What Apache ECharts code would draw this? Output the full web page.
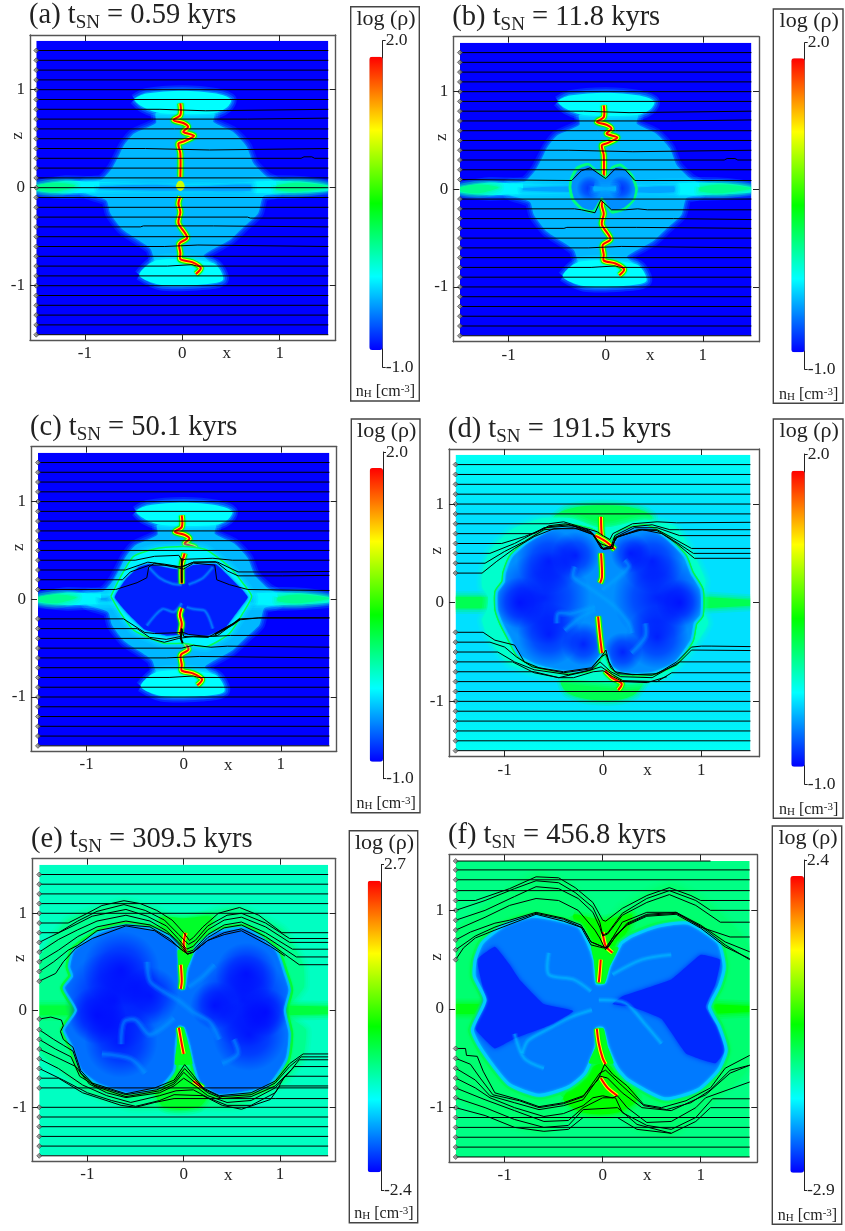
<!DOCTYPE html>
<html>
<head>
<meta charset="utf-8">
<script src="https://cdn.jsdelivr.net/npm/echarts@6/dist/echarts.min.js"></script>
<style>html,body{margin:0;padding:0;background:#fff}#main{width:845px;height:1231px}</style>
</head>
<body>
<div id="main"></div>
<script>
// values, all in plot units (x, z)
var ticks = [-1, 0, 1];
var labelsPanel = ['(a)', '(b)', '(c)', '(d)', '(e)', '(f)'];
var times = ['0.59', '11.8', '50.1', '191.5', '309.5', '456.8'];
var rhoMax = [2.0, 2.0, 2.0, 2.0, 2.7, 2.4];
var rhoMin = [-1.0, -1.0, -1.0, -1.0, -2.4, -2.9];
var imageBox = [[-1.5, 1.5], [1.5, 1.5], [1.5, -1.5], [-1.5, -1.5]];
var outsideImage = [
  [[-2, 2], [-1.5, 2], [-1.5, -2], [-2, -2]],
  [[1.5, 2], [2, 2], [2, -2], [1.5, -2]],
  [[-2, 2], [2, 2], [2, 1.5], [-2, 1.5]],
  [[-2, -1.5], [2, -1.5], [2, -2], [-2, -2]]
];

// early stage gas, same in panels a, b, c
var capTop = [[-.49,.9],[-.37,.96],[0,.99],[.35,.96],[.5,.9],[.46,.82],[.32,.76],[-.22,.76],[-.4,.82]];
var capBot = [[-.44,-.89],[-.23,-.99],[.18,-.99],[.42,-.94],[.32,-.77],[-.26,-.74]];
var body = [[-.27,.76],[.33,.76],[.32,.67],[.52,.57],[.66,.42],[.73,.25],[.87,.11],[.97,.05],[.97,-.05],[.83,-.09],[.78,-.26],[.63,-.4],[.49,-.53],[.22,-.69],[.3,-.78],[-.26,-.78],[-.33,-.62],[-.61,-.43],[-.74,-.26],[-.78,-.13],[-1,-.05],[-1,.05],[-.83,.08],[-.72,.2],[-.65,.33],[-.6,.43],[-.5,.55],[-.27,.66]];
var disc = [[-1.5,.02],[-1.2,.07],[-.9,.06],[-.5,.05],[0,.04],[.5,.05],[.95,.07],[1.25,.06],[1.5,.02],[1.5,-.03],[1.25,-.05],[.95,-.06],[.5,-.05],[0,-.05],[-.5,-.05],[-.9,-.05],[-1.2,-.06],[-1.5,-.03]];
var discCore = [[-.85,.01],[-.3,.03],[.1,.01],[.7,.03],[.7,-.03],[.1,-.03],[-.3,-.03],[-.85,-.01]];
var discTipL = [[-1.5,.02],[-1.3,.05],[-1.1,.02],[-1.3,-.04],[-1.5,-.02]];
var discTipR = [[.97,.02],[1.2,.05],[1.5,.01],[1.2,-.04],[.97,-.02]];
var filTop = [[-.02,.86],[-.02,.74],[-.09,.69],[.01,.66],[.06,.62],[.01,.57],[.12,.53],[.01,.47],[-.04,.45],[-.02,.35],[-.02,.11]];
var filBot = [[-.02,-.09],[-.04,-.16],[-.02,-.25],[-.04,-.36],[.05,-.51],[-.03,-.57],[-.02,-.67],[-.02,-.73],[.1,-.76],[.19,-.82],[.14,-.88]];
var filTopC = [[-.02,.86],[-.02,.74],[-.09,.69],[.01,.66],[.06,.62],[.01,.57],[.12,.53],[.01,.47],[-.02,.35],[-.02,.16]];
var centreBlob = [[-.05,.05],[-.02,.07],[.01,.05],[.02,.0],[-.02,-.03],[-.06,.0]];

var straightA = [1.4,1.3,1.2,1.1,1,.9,.5,.2,.1,0,-.1,-.2,-.5,-.7,-.9,-1,-1.1,-1.2,-1.3,-1.4,-1.5];
var kinks = [
  [[-1.5,.8],[-.23,.8],[-.22,.785],[.24,.785],[.25,.8],[1.5,.8]],
  [[-1.5,.7],[.67,.7],[.68,.71],[1.5,.71]],
  [[-1.5,.6],[-.08,.6],[-.06,.585],[.1,.6],[1.5,.6]],
  [[-1.5,.4],[-.38,.4],[-.36,.385],[.28,.385],[.3,.4],[1.5,.4]],
  [[-1.5,.3],[1.22,.3],[1.25,.315],[1.33,.315],[1.36,.3],[1.5,.3]],
  [[-1.5,-.3],[.67,-.3],[.7,-.31],[1.5,-.31]],
  [[-1.5,-.4],[-.43,-.4],[-.4,-.39],[.32,-.39],[.33,-.4],[1.5,-.4]],
  [[-1.5,-.6],[-.18,-.6],[-.16,-.585],[.16,-.585],[.18,-.6],[1.5,-.6]],
  [[-1.5,-.8],[-.15,-.8],[-.13,-.785],[.1,-.785],[.15,-.8],[1.5,-.8]]
];

// panel b
var shellB = [[0,.13],[-.11,.215],[-.18,.27],[-.3,.23],[-.365,.11],[-.38,.01],[-.35,-.11],[-.25,-.21],[-.13,-.245],[-.04,-.11],[.06,-.245],[.2,-.21],[.3,-.11],[.33,.01],[.28,.15],[.16,.26],[.06,.23]];
var innerB = [[0,.1],[-.11,.19],[-.18,.24],[-.28,.2],[-.34,.1],[-.35,.01],[-.32,-.1],[-.23,-.19],[-.13,-.21],[-.04,-.08],[.06,-.21],[.18,-.19],[.28,-.1],[.3,.01],[.25,.14],[.15,.23],[.06,.2]];
var coresB = [[-.17,.01,.13],[.16,.01,.13]];
var barB = [[-.12,.03],[0,.02],[.1,.03],[.1,-.02],[0,-.01],[-.12,-.02]];
var straightB = [1.4,1.3,1.2,1.1,1,.9,.5,.2,-.1,-.5,-.7,-.9,-1,-1.1,-1.2,-1.3,-1.4,-1.5];
var bentB = [
  [[-1.5,.1],[-.35,.09],[-.25,.19],[-.16,.22],[0,.11],[.1,.21],[.2,.2],[.3,.09],[1.5,.09]],
  [[-1.5,-.2],[-.32,-.2],[-.25,-.21],[-.11,-.24],[-.05,-.11],[.06,-.21],[.2,-.21],[.33,-.2],[.43,-.21],[1.5,-.21]],
  [[-1.5,-.3],[.7,-.3],[.72,-.31],[1.5,-.31]]
];

// panel c
var shellC = [[-.75,.03],[-.65,.23],[-.515,.44],[-.28,.52],[0,.54],[.235,.505],[.47,.33],[.61,.165],[.7,.03],[.61,-.14],[.47,-.35],[.235,-.485],[0,-.45],[-.21,-.45],[-.515,-.315],[-.65,-.14]];
var innerC = [[-.71,.02],[-.6,.2],[-.46,.33],[-.36,.36],[-.1,.31],[0,.3],[.1,.35],[.33,.36],[.45,.25],[.6,.1],[.66,.02],[.55,-.13],[.42,-.3],[.25,-.37],[0,-.36],[-.18,-.37],[-.4,-.31],[-.58,-.14]];
var streaksC = [
  [[-.36,.33],[-.25,.22],[-.12,.16],[-.02,.15]],
  [[.3,.33],[.2,.22],[.1,.17],[.05,.15]],
  [[-.38,-.27],[-.22,-.1],[-.1,-.13],[-.02,-.04]],
  [[.3,-.3],[.22,-.12],[.1,-.1],[.03,-.08]]
];
var straightC = [1.4,1.3,1.2,1.1,1,.9,.8,.7,.6,.5,-.7,-.9,-1,-1.1,-1.2,-1.3,-1.4,-1.5];
var bentC = [
  [[-1.5,.4],[-.5,.4],[-.3,.44],[-.05,.45],[-.02,.4],[.02,.41],[.3,.42],[.5,.4],[1.5,.4]],
  [[-1.5,.3],[-.6,.3],[-.37,.38],[-.2,.36],[-.02,.33],[.1,.38],[.35,.38],[.56,.28],[1,.28],[1.02,.285],[1.5,.285]],
  [[-1.5,.2],[-.63,.2],[-.55,.28],[-.35,.35],[-.2,.35],[-.03,.33],[.1,.38],[.33,.385],[.45,.29],[.56,.24],[1.02,.24],[1.5,.245]],
  [[-1.5,.1],[-.7,.1],[-.48,.17],[-.38,.22],[-.36,.33],[-.3,.37],[-.05,.32],[0,.31],[.1,.37],[.32,.35],[.34,.2],[.47,.15],[.66,.1],[1.5,.09]],
  [[-1.5,-.2],[-.62,-.2],[-.4,-.34],[-.3,-.35],[0,-.34],[.05,-.36],[.25,-.38],[.35,-.37],[.58,-.2],[.8,-.19],[1.5,-.19]],
  [[-1.5,-.3],[-.48,-.3],[-.35,-.39],[-.18,-.41],[-.03,-.38],[-.02,-.3],[0,-.38],[.25,-.39],[.45,-.28],[.58,-.21],[.77,-.19],[1.5,-.19]],
  [[-1.5,-.4],[-.35,-.4],[-.2,-.44],[-.05,-.4],[.1,-.38],[.3,-.38],[.48,-.37],[1.5,-.37]],
  [[-1.5,-.5],[-.02,-.5],[.1,-.47],[.28,-.49],[.45,-.48],[1.5,-.49]],
  [[-1.5,-.6],[-.18,-.6],[-.16,-.585],[.16,-.585],[.18,-.6],[1.5,-.6]],
  [[-1.5,-.8],[-.15,-.8],[-.13,-.785],[.1,-.785],[.15,-.8],[1.5,-.8]]
];
var coreLinesC = [
  [[-.02,.42],[-.02,.17]],
  [[-.02,-.3],[-.03,-.4],[-.01,-.45]],
  [[.32,-.36],[.5,-.26],[.58,-.2]]
];

// panel d
var shellD = [[-1.23,.3],[-1.15,.53],[-.93,.74],[-.62,.855],[-.32,.855],[-.08,.77],[.09,.77],[.43,.84],[.73,.77],[.9,.53],[1.04,.23],[1.02,.06],[1.02,-.07],[1.07,-.21],[.9,-.48],[.63,-.75],[.26,-.82],[-.25,-.78],[-.66,-.72],[-.96,-.615],[-1.17,-.345],[-1.23,-.175],[-1.18,-.07],[-1.17,.06],[-1.23,.16]];
var innerD = [[0,.57],[-.1,.72],[-.32,.77],[-.52,.75],[-.76,.62],[-.93,.47],[-1,.3],[-1.01,.21],[-1.08,.11],[-1.08,-.07],[-1.03,-.21],[-.96,-.345],[-.86,-.53],[-.69,-.63],[-.39,-.7],[-.115,-.665],[.02,-.48],[.09,-.65],[.19,-.715],[.49,-.715],[.73,-.615],[.9,-.38],[.935,-.21],[1,-.125],[1,.13],[.9,.3],[.83,.47],[.63,.67],[.43,.77],[.19,.72],[.105,.62]];
var glowsD = [[-.6,.05,.47],[-.85,0,.26],[-.55,.42,.33],[-.55,-.32,.32],[-.28,.48,.24],[-.2,-.42,.22],[.55,.05,.45],[.78,0,.24],[.5,.42,.32],[.55,-.35,.32],[.28,.5,.2],[.2,-.5,.2]];
var streaksD = [
  [[-.285,.365],[-.3,.26],[-.15,.16],[-.01,.06],[.12,-.04],[.26,-.21],[.29,-.31]],
  [[.22,.43],[.26,.365],[.155,.26],[-.01,.13]],
  [[-.47,-.21],[-.455,-.11],[-.32,-.11],[-.08,-.04]],
  [[-.39,-.28],[-.215,-.14],[-.08,-.075]],
  [[.43,-.21],[.43,-.345],[.29,-.51]]
];
var capTopD = [[-.5,.85],[-.35,.95],[0,.99],[.35,.95],[.5,.85],[.1,.6],[-.1,.6]];
var capBotD = [[-.42,-.78],[-.35,-.92],[0,-.99],[.3,-.94],[.4,-.78]];
var discLD = [[-1.5,.06],[-1.1,.06],[-1.1,-.06],[-1.5,-.06]];
var discRD = [[1,.06],[1.5,.03],[1.5,-.03],[1,-.06]];
var filD = [
  [[-.02,.87],[-.01,.67],[.03,.58]],
  [[-.02,.5],[-.01,.26],[-.03,.2]],
  [[-.05,-.14],[-.03,-.345],[-.01,-.51]],
  [[.02,-.69],[.09,-.76],[.19,-.82],[.155,-.885]],
  [[-.08,.68],[.03,.62],[.12,.54]]
];
var straightD = [1.4,1.3,1.2,1.1,1,.9,-.8,-.9,-1,-1.1,-1.2,-1.3,-1.4,-1.5];
var bentD = [
  [[-1.5,.8],[-.55,.8],[-.4,.82],[-.2,.76],[-.06,.72],[0,.68],[.07,.64],[.1,.7],[.3,.8],[.55,.82],[.75,.81],[1.5,.815]],
  [[-1.5,.7],[-.7,.7],[-.55,.78],[-.38,.8],[-.15,.74],[-.03,.6],[.08,.56],[.12,.68],[.3,.77],[.5,.79],[.68,.74],[.78,.74],[1.5,.74]],
  [[-1.5,.6],[-1.03,.6],[-.8,.67],[-.55,.77],[-.35,.79],[-.12,.72],[-.02,.55],[.1,.55],[.12,.66],[.32,.76],[.55,.76],[.78,.68],[1.5,.68]],
  [[-1.5,.5],[-1.15,.5],[-.9,.6],[-.6,.76],[-.3,.78],[-.1,.7],[0,.54],[.09,.55],[.13,.66],[.35,.74],[.55,.74],[.72,.65],[.9,.55],[1.5,.55]],
  [[-1.5,.4],[-1.2,.4],[-1,.52],[-.8,.62],[-.6,.74],[-.3,.76],[-.1,.69],[0,.54],[.08,.56],[.14,.66],[.37,.74],[.55,.73],[.72,.63],[.92,.5],[1.5,.5]],
  [[-1.5,.3],[-1.23,.3],[-1.08,.42],[-.9,.55],[-.7,.67],[-.5,.75],[-.25,.75],[-.1,.69],[0,.55],[.08,.57],[.15,.67],[.4,.74],[.6,.7],[.75,.6],[.93,.45],[1.5,.45]],
  [[-1.5,-.3],[-1.22,-.3],[-1.1,-.38],[-.9,-.43],[-.8,-.6],[-.65,-.66],[-.4,-.7],[-.12,-.66],[-.02,-.55],[.03,-.48],[.06,-.6],[.12,-.7],[.3,-.73],[.55,-.72],[.75,-.6],[.9,-.45],[1,-.44],[1.1,-.44],[1.5,-.445]],
  [[-1.5,-.4],[-1.15,-.4],[-1,-.45],[-.88,-.55],[-.72,-.65],[-.4,-.71],[-.12,-.67],[-.02,-.55],[.03,-.52],[.08,-.66],[.15,-.72],[.5,-.735],[.75,-.63],[.9,-.48],[1.5,-.485]],
  [[-1.5,-.5],[-1.07,-.5],[-.9,-.6],[-.7,-.68],[-.35,-.73],[-.12,-.68],[-.03,-.6],[.08,-.7],[.18,-.75],[.5,-.76],[.78,-.6],[1.5,-.6]],
  [[-1.5,-.6],[-.92,-.6],[-.7,-.71],[-.45,-.76],[-.15,-.69],[-.02,-.65],[.1,-.73],[.2,-.79],[.55,-.8],[.7,-.71],[1.5,-.71]],
  [[-1.5,-.7],[-.7,-.7],[-.45,-.76],[-.3,-.76],[-.1,-.7],[0,-.69],[.1,-.75],[.2,-.8],[.45,-.81],[.65,-.75]]
];

// panel e
var shellE = [[-1.5,.52],[-1.21,.93],[-.62,1.12],[-.28,1.03],[0,.9],[.34,1.03],[.58,1.06],[1.03,.83],[1.24,.48],[1.25,.24],[1.1,.04],[1.1,-.065],[1.27,-.2],[1.24,-.48],[1.03,-.75],[.58,-.99],[0,-.99],[-.55,-1],[-1.03,-.82],[-1.5,-.41],[-1.5,.04]];
var innerE = [[.13,.66],[.04,.42],[.01,.23],[-.03,.22],[-.05,.42],[-.07,.69],[-.25,.82],[-.59,.88],[-.865,.81],[-1.14,.62],[-1.19,.45],[-1.16,.35],[-1.245,.23],[-1.12,0],[-1.245,-.2],[-1.16,-.375],[-1.07,-.615],[-.9,-.755],[-.59,-.855],[-.245,-.79],[-.1,-.62],[-.08,-.35],[-.05,-.17],[0,-.18],[.06,-.37],[.1,-.55],[.17,-.755],[.375,-.875],[.86,-.79],[1.065,-.51],[1.1,-.24],[1.05,0],[1.1,.21],[1.05,.38],[.96,.62],[.65,.845],[.34,.81]];
var glowsE = [[-.72,.1,.52],[-.65,-.32,.38],[-.65,.42,.4],[-.35,.15,.3],[-.9,-.05,.3],[.62,.1,.48],[.65,.38,.32],[.68,-.25,.38],[.32,.05,.25],[.85,-.02,.25]];
var streaksE = [
  [[-.38,.5],[-.35,.3],[-.22,.2],[-.05,.1],[.1,-.02],[.27,-.12],[.37,-.3]],
  [[.32,.47],[.2,.35],[.05,.24]],
  [[-.65,-.35],[-.62,-.12],[-.5,-.1],[-.35,-.25],[-.1,-.08]],
  [[.52,-.3],[.56,-.45],[.4,-.55]],
  [[-.4,-.65],[-.55,-.5],[-.85,-.45]]
];
var wedgeTopE = [[-.06,.62],[.1,.6],[.03,.42],[.01,.22],[-.03,.22],[-.05,.42]];
var wedgeBotE = [[-.09,-.56],[.09,-.55],[.05,-.36],[0,-.18],[-.05,-.17],[-.07,-.36]];
var capTopE = [[-.25,.95],[0,.95],[.3,.95],[.1,.62],[-.08,.62]];
var capBotE = [[-.3,-.8],[0,-.6],[.25,-.85],[.15,-1],[-.2,-1]];
var discLE = [[-1.5,.05],[-1.12,.05],[-1.12,-.05],[-1.5,-.05]];
var discRE = [[1.05,.05],[1.5,.04],[1.5,-.04],[1.05,-.05]];
var filE = [
  [[.02,.8],[0,.68],[.02,.6]],
  [[-.03,.47],[-.02,.3],[-.03,.22]],
  [[-.05,-.18],[-.02,-.35],[0,-.45]],
  [[.1,-.73],[.2,-.8]]
];
var straightE = [1.4,1.3,1.2,1.1,1,-.8,-1,-1.1,-1.2,-1.3,-1.4,-1.5];
var bentE = [
  [[-1.5,.9],[-1.2,.9],[-1,1],[-.85,1.08],[-.62,1.13],[-.45,1.1],[-.28,1.03],[-.12,.93],[0,.8],[.06,.72],[.1,.75],[.2,.86],[.36,1],[.58,1.06],[.78,.98],[1.02,.8],[1.5,.8]],
  [[-1.5,.8],[-1.3,.8],[-1.1,.92],[-.9,1.02],[-.62,1.09],[-.4,1.03],[-.2,.93],[-.05,.78],[.05,.68],[.12,.72],[.25,.87],[.45,.98],[.6,1],[.85,.9],[1.1,.74],[1.5,.74]],
  [[-1.5,.7],[-1.4,.75],[-1.15,.87],[-.95,.97],[-.6,1.04],[-.38,.97],[-.18,.87],[-.05,.73],[.03,.63],[.1,.66],[.25,.83],[.42,.93],[.6,.96],[.85,.86],[1.1,.7],[1.5,.7]],
  [[-1.5,.6],[-1.3,.73],[-1.1,.83],[-.9,.92],[-.6,.98],[-.35,.92],[-.18,.82],[-.05,.7],[.04,.6],[.1,.62],[.25,.78],[.42,.88],[.6,.91],[.85,.8],[1.13,.63],[1.5,.63]],
  [[-1.5,.5],[-1.3,.62],[-1.1,.76],[-.9,.86],[-.6,.92],[-.35,.88],[-.15,.78],[-.03,.66],[.04,.58],[.1,.6],[.25,.75],[.42,.85],[.6,.88],[.85,.76],[1.17,.55],[1.5,.55]],
  [[-1.5,.4],[-1.35,.5],[-1.2,.62],[-1.1,.67],[-.9,.82],[-.6,.88],[-.35,.86],[-.15,.74],[-.03,.63],[.04,.58],[.1,.6],[.25,.72],[.42,.8],[.6,.84],[.85,.72],[1.2,.47],[1.5,.47]],
  [[-1.5,.3],[-1.33,.38],[-1.25,.5],[-1.12,.64],[-.95,.74],[-.6,.87],[-.3,.82],[-.12,.7],[.04,.58],[.1,.6],[.25,.72],[.42,.78],[.6,.82],[.9,.66],[1.05,.56]],
  [[-1.5,-.09],[-1.38,-.07],[-1.27,-.1],[-1.25,-.16],[-1.28,-.22],[-1.25,-.3],[-1.15,-.38],[-1.07,-.62],[-.95,-.75],[-.6,-.86],[-.3,-.8],[-.1,-.72],[.01,-.56],[.1,-.67],[.2,-.8],[.37,-.88],[.7,-.85],[.95,-.73],[1.1,-.55],[1.24,-.45],[1.5,-.45]],
  [[-1.5,-.2],[-1.35,-.3],[-1.25,-.36],[-1.15,-.42],[-1.07,-.65],[-.93,-.77],[-.6,-.87],[-.28,-.82],[-.1,-.74],[.01,-.6],[.12,-.72],[.22,-.82],[.38,-.89],[.7,-.87],[.95,-.75],[1.1,-.58],[1.22,-.48],[1.5,-.48]],
  [[-1.5,-.3],[-1.33,-.4],[-1.17,-.48],[-1.08,-.68],[-.9,-.79],[-.6,-.89],[-.25,-.83],[-.1,-.76],[0,-.64],[.12,-.75],[.25,-.85],[.4,-.91],[.7,-.89],[.95,-.78],[1.12,-.61],[1.2,-.51],[1.5,-.51]],
  [[-1.5,-.4],[-1.33,-.48],[-1.12,-.58],[-.98,-.76],[-.8,-.85],[-.6,-.9],[-.25,-.85],[-.1,-.78],[0,-.7],[.12,-.78],[.25,-.88],[.45,-.95],[.7,-.93],[.95,-.8],[1.15,-.58],[1.5,-.58]],
  [[-1.5,-.5],[-1.3,-.6],[-1.05,-.77],[-.8,-.88],[-.55,-.95],[-.25,-.88],[-.08,-.83],[.1,-.82],[.25,-.9],[.45,-.98],[.7,-.98],[.95,-.85],[1.05,-.68],[1.5,-.68]],
  [[-1.5,-.6],[-1.25,-.72],[-1,-.85],[-.75,-.93],[-.5,-.99],[-.25,-.93],[-.1,-.87],[.2,-.88],[.4,-.98],[.6,-1.02],[.9,-.92],[1,-.78],[1.5,-.78]],
  [[-1.5,-.7],[-1.3,-.7],[-1.05,-.85],[-.65,-.98],[-.5,-1],[-.3,-.95],[-.1,-.91],[.95,-.91],[1.5,-.91]]
];

// panel f
var innerF = [[.19,.67],[.07,.43],[.02,.27],[-.06,.26],[-.09,.5],[-.15,.67],[-.25,.84],[-.7,.94],[-1,.85],[-1.23,.67],[-1.3,.5],[-1.31,.33],[-1.2,.09],[-1.33,-.21],[-1.23,-.42],[-.96,-.76],[-.65,-.875],[-.35,-.79],[-.18,-.65],[-.07,-.38],[-.06,-.2],[0,-.2],[.05,-.38],[.15,-.6],[.26,-.72],[.63,-.91],[.97,-.82],[1.18,-.62],[1.26,-.42],[1.19,-.18],[1.09,.02],[1.19,.23],[1.24,.43],[1.18,.67],[.87,.87],[.57,.84],[.3,.74]];
var shellF = [[-1.5,.78],[-1.2,1.05],[-.68,1.37],[-.4,1.3],[-.1,1.05],[0,.85],[.2,1.05],[.68,1.27],[1.05,1.1],[1.5,.62],[1.5,-.57],[1.1,-.95],[.7,-1.28],[.35,-1.22],[.15,-1.05],[-.2,-1.05],[-.6,-1.25],[-1,-1.15],[-1.5,-.85]];
var darkLF = [[-1.28,.5],[-1.1,.63],[-.95,.45],[-.85,.3],[-.6,.05],[-.3,-.02],[-.5,-.15],[-.9,-.3],[-1.1,-.4],[-1.3,-.2],[-1.2,.1]];
var darkRF = [[1.2,.5],[1,.55],[.7,.3],[.2,.13],[.1,.05],[.3,.02],[.6,-.1],[.85,-.45],[1.15,-.55],[1.25,-.42],[1.15,-.15],[1.05,.02],[1.15,.25]];
var streaksF = [
  [[-.82,-.45],[-.76,-.32],[-.55,-.2],[-.32,-.08],[-.11,-.01]],
  [[-.04,.09],[.23,.06],[.43,-.15],[.6,-.35]],
  [[-.55,.57],[-.55,.35],[-.3,.3],[-.12,.18]],
  [[-.9,-.25],[-.8,-.5],[-.6,-.6]],
  [[.1,.35],[.4,.5],[.7,.55]]
];
var wedgeTopF = [[-.12,.66],[.16,.62],[.07,.43],[.02,.26],[-.06,.26],[-.09,.5]];
var wedgeBotF = [[-.14,-.55],[.11,-.55],[.05,-.38],[.01,-.2],[-.06,-.2],[-.07,-.38]];
var capTopF = [[-.3,.95],[0,.9],[.3,.95],[.12,.6],[-.1,.6]];
var capBotF = [[-.4,-.9],[0,-.55],[.35,-.9],[.15,-1.05],[-.2,-1.05]];
var discLF = [[-1.5,.05],[-1.2,.05],[-1.2,-.05],[-1.5,-.05]];
var discRF = [[1.1,.05],[1.5,.03],[1.5,-.03],[1.1,-.05]];
var filF = [
  [[0,.78],[.03,.64],[.1,.57]],
  [[-.02,.5],[-.03,.37],[-.04,.27]],
  [[-.06,-.2],[-.04,-.35],[0,-.5],[.03,-.56]],
  [[-.02,-.7],[.05,-.8],[.15,-.88]]
];
var straightF = [1.5,1.41,1.31,1.2,-1.1,-1.2,-1.3,-1.4,-1.5];
var bentF = [
  [[-1.5,1.1],[-1.3,1.1],[-.95,1.22],[-.68,1.34],[-.45,1.33],[-.28,1.23],[-.1,1.08],[0,.9],[.03,.89],[.2,1.02],[.45,1.15],[.68,1.23],[.9,1.15],[1,1.1],[1.5,1.1]],
  [[-1.5,1],[-1.2,1.1],[-.9,1.22],[-.68,1.3],[-.45,1.28],[-.28,1.18],[-.1,1.03],[-.03,.88],[0,.75],[.05,.77],[.2,.97],[.45,1.12],[.68,1.2],[.95,1.1],[1.1,1],[1.5,1]],
  [[-1.5,.9],[-1.2,1],[-.9,1.14],[-.68,1.24],[-.45,1.22],[-.25,1.12],[-.1,.98],[-.03,.83],[0,.74],[.05,.76],[.2,.95],[.45,1.08],[.68,1.16],[.95,1.05],[1.2,.88],[1.5,.88]],
  [[-1.5,.8],[-1.2,.93],[-.95,1.05],[-.68,1.12],[-.45,1.1],[-.25,1],[-.08,.8],[-.03,.72],[.03,.6],[.1,.72],[.2,.88],[.45,.98],[.75,.98],[1,.83],[1.3,.73],[1.5,.73]],
  [[-1.5,.7],[-1.35,.78],[-1.1,.87],[-.95,.9],[-.68,.98],[-.4,.92],[-.22,.85],[-.12,.68],[0,.63],[.05,.62],[.12,.72],[.25,.87],[.45,.96],[.75,.98],[1,.85],[1.25,.68],[1.5,.58]],
  [[-1.5,.6],[-1.3,.74],[-1.1,.83],[-.68,.97],[-.4,.91],[-.22,.83],[-.12,.65],[0,.62],[.05,.62],[.12,.72],[.25,.86],[.45,.95],[.75,.97],[1,.84],[1.25,.65],[1.5,.5]],
  [[-1.5,.5],[-1.42,.62],[-1.3,.72],[-1.1,.8],[-.68,.96],[-.4,.89],[-.2,.82],[-.12,.68],[.03,.62],[.1,.72],[.25,.85],[.45,.94],[.75,.96],[1,.82],[1.25,.63],[1.5,.51]],
  [[-1.5,-.4],[-1.4,-.4],[-1.39,-.47],[-1.28,-.48],[-1.22,-.63],[-1.1,-.85],[-.85,-.92],[-.65,-.99],[-.4,-.95],[-.2,-.88],[-.05,-.72],[.02,-.56],[.1,-.66],[.25,-.78],[.42,-.97],[.6,-1],[.85,-.93],[1.1,-.8],[1.25,-.6],[1.5,-.47]],
  [[-1.5,-.5],[-1.35,-.56],[-1.25,-.7],[-1.12,-.87],[-.85,-.93],[-.65,-1],[-.4,-.96],[-.2,-.89],[-.03,-.65],[.03,-.62],[.2,-.78],[.42,-.98],[.65,-1.02],[.9,-.95],[1.1,-.82],[1.3,-.62],[1.5,-.57]],
  [[-1.5,-.6],[-1.3,-.72],[-1.15,-.88],[-.9,-.95],[-.65,-1.02],[-.4,-.98],[-.2,-.92],[-.03,-.68],[.05,-.7],[.2,-.85],[.4,-1],[.7,-1.03],[1.05,-.87],[1.3,-.65],[1.5,-.57]],
  [[-1.5,-.7],[-1.3,-.8],[-1.15,-.9],[-.9,-1],[-.6,-1.09],[-.4,-1.06],[-.2,-.98],[-.1,-.9],[0,-.88],[.1,-.9],[.15,-.88],[.25,-1],[.45,-1.15],[.7,-1.14],[.95,-1],[1.05,-.9],[1.5,-.74]],
  [[-1.5,-.8],[-1.2,-.92],[-.9,-1.03],[-.6,-1.14],[-.35,-1.13],[-.2,-1],[0,-.9],[.13,-.9],[.2,-1.05],[.45,-1.18],[.7,-1.22],[.95,-1.1],[1.12,-.91],[1.5,-.91]],
  [[-1.5,-.9],[-1.2,-1],[-.9,-1.12],[-.6,-1.2],[-.35,-1.18],[-.2,-1.02],[.15,-1],[.35,-1.17],[.7,-1.26],[.95,-1.14],[1.1,-1],[1.5,-1]],
  [[-1.5,-1],[-1.2,-1.08],[-.9,-1.2],[-.6,-1.24],[-.35,-1.22],[-.2,-1.1],[.15,-1.1],[.35,-1.22],[.7,-1.26]]
];

// page layout in pixels, [left, top, right, bottom]
var frames = [[30,35,335.7,340],[453.3,36.7,759,341.7],[31,446.7,336.7,751.3],[449,449,759,756.7],[32,858.7,335.7,1161.3],[449,854.7,757.3,1162]];
var tickPx = [[85.3,182.3,280,89.3,187.7,285.3],[509,605.7,703.3,91.7,189.3,287],[86.7,183.7,281,501.3,599.3,696.7],[505.7,603,702.3,504,602.7,701.3],[87.7,183.7,280.3,913.3,1010.3,1107.3],[505.3,602.7,701.3,910,1009,1107.3]];
var barBoxes = [[350.7,6.7,419.3,401],[773.3,9,843,403.3],[351.3,419,420,812.7],[773.3,419,843,818.3],[349.3,830.7,417.7,1222.7],[772.3,826,841.7,1224.3]];
var bars = [[369.3,56.7,382.7,350],[791.3,58.3,804.7,352.3],[369.7,468,383,761.7],[791.3,470.7,804.7,766.7],[367.7,880.7,381,1172.3],[790.3,876,804,1172.7]];
var barAxis = [[40.7,367.3],[42.7,369.3],[452,778.7],[454,784.3],[864.7,1190],[860,1190]];

var jetStops = ['#0000ff', '#00ffff', '#00ff00', '#ffff00', '#ff0000'];
function jet(v, alpha) {
  var p = [[0,0,255],[0,255,255],[0,255,0],[255,255,0],[255,0,0]];
  var t = Math.min(v, .9999) * 4, i = Math.floor(t), f = t - i, c = [0,1,2].map(function (k) {
    return Math.round(p[i][k] + (p[i + 1][k] - p[i][k]) * f);
  });
  return 'rgba(' + c.join(',') + ',' + (alpha == null ? 1 : alpha) + ')';
}
function fill(pts, v, blur, smooth) {
  return {pts: pts, color: jet(v), blur: blur || 0, smooth: smooth || 0};
}
function pen(pts, v, width, blur, smooth, opacity) {
  return {pts: pts, color: jet(v), line: true, width: width, blur: blur || 0, smooth: smooth == null ? .3 : smooth, opacity: opacity == null ? 1 : opacity};
}
function ring(pts, v, width, blur, smooth, opacity) {
  return pen(pts.concat([pts[0]]), v, width, blur, smooth == null ? .2 : smooth, opacity);
}
// filled shape whose edge fades out over a few pixels
function soft(pts, v, smooth) {
  return [ring(pts, v, 11, 0, smooth, .16), ring(pts, v, 7, 0, smooth, .22), ring(pts, v, 3, 0, smooth, .35), fill(pts, v, 0, smooth)];
}
function glows(list, v) {
  return list.map(function (g) { return {pts: [[g[0], g[1]]], glow: g[2], v: v}; });
}
function filament(pts) {
  return [pen(pts, .5, 6, 2), pen(pts, .75, 4), pen(pts, 1, 2)];
}
function filaments(list) {
  return list.reduce(function (a, s) { return a.concat(filament(s)); }, []);
}
function streaks(list, v, width) {
  return list.reduce(function (a, s) {
    return a.concat([pen(s, v, width * 3, 0, .3, .14), pen(s, v, width * 2, 0, .3, .2), pen(s, v, width, 0, .3, .35)]);
  }, []);
}
function frameMask() {
  return outsideImage.map(function (m) { return {pts: m, color: '#fff', blur: 0, smooth: 0}; });
}

var earlyGas = [fill(imageBox, 0)].concat(
  soft(body, .18, .2), soft(capTop, .25, .3), soft(capBot, .25, .3),
  soft(disc, .24, .2), soft(discCore, .16, .3), soft(discTipL, .36, .3), soft(discTipR, .36, .3)
);

var layersA = earlyGas.concat(filament(filTop), filament(filBot), [fill(centreBlob, .7, 1, .4)]);
var layersB = earlyGas.concat(filament(filTop), filament(filBot), [
  fill(shellB, .38, 1, .2), fill(innerB, .14, 1, .2)
], glows(coresB, .02), soft(barB, .17, .3));
var layersC = earlyGas.concat(filament(filTopC), filament(filBot), soft(shellC, .24, .15), [
  ring(shellC, .42, 1.5), fill(innerC, .03, 3, .1)
], streaks(streaksC, .18, 1.5), filament(filTopC.slice(-3)), filament(filBot.slice(0, 4)));
var layersD = [{pts: imageBox, gradient: [[0, .26], [.2, .22], [.8, .22], [1, .26]], blur: 0, smooth: 0}].concat(
  soft(capTopD, .42, .35), soft(capBotD, .42, .35), soft(discLD, .42, 0), soft(discRD, .42, 0),
  soft(shellD, .3, .2), [ring(innerD, .46, 5, 1), fill(innerD, .14, 0, .1)],
  glows(glowsD, 0), [ring(innerD, .2, 2, 2)],
  streaks(streaksD, .16, 2.5), filaments(filD)
);
var layersE = [fill(imageBox, .31)].concat(
  soft(shellE, .36, .15), soft(capTopE, .46, .3), soft(capBotE, .46, .3), soft(discLE, .44, 0), soft(discRE, .44, 0),
  [ring(innerE, .46, 7, 2), fill(innerE, .11, 0, .08)],
  glows(glowsE, 0), [ring(innerE, .18, 2, 2)],
  [fill(wedgeTopE, .47, 1, .1), fill(wedgeBotE, .47, 1, .1)],
  streaks(streaksE, .15, 2.5), filaments(filE)
);
var layersF = [fill(imageBox, .37)].concat(
  soft(shellF, .39, .2), soft(capTopF, .5, .3), soft(capBotF, .5, .3), soft(discLF, .48, 0), soft(discRF, .5, 0),
  [ring(innerF, .44, 8, 3), fill(innerF, .12, 0, .08), fill(darkLF, .04, 5, .1), fill(darkRF, .04, 5, .1), ring(innerF, .2, 3, 3)],
  [fill(wedgeTopF, .47, 1, .1), fill(wedgeBotF, .47, 1, .1)],
  streaks(streaksF, .2, 2), filaments(filF)
);

function straight(levels) {
  return levels.map(function (z) { return [[-1.5, z], [1.5, z]]; });
}
var layers = [layersA, layersB, layersC, layersD, layersE, layersF].map(function (l) { return l.concat(frameMask()); });
var fieldLines = [
  straight(straightA).concat(kinks),
  straight(straightB).concat(kinks.slice(0, 5), kinks.slice(6), bentB),
  straight(straightC).concat(bentC),
  straight(straightD).concat(bentD),
  straight(straightE).concat(bentE),
  straight(straightF).concat(bentF)
];
fieldLines[5][0] = [[-1.5, 1.5], [1.1, 1.5]];
var coreLines = [[], [], coreLinesC, [], [], []];

var font = 'Liberation Serif';
var option = {animation: false, backgroundColor: '#fff', title: [], grid: [], xAxis: [], yAxis: [], visualMap: [], series: [], graphic: []};

function renderLayers(list) {
  return function (params, api) {
    var L = list[params.dataIndex];
    var pts = L.pts.map(function (p) { return api.coord(p); });
    if (L.glow) {
      var r = api.size([L.glow, 0])[0];
      return {type: 'circle', shape: {cx: pts[0][0], cy: pts[0][1], r: r}, style: {fill: {
        type: 'radial', x: .5, y: .5, r: .5,
        colorStops: [{offset: 0, color: jet(L.v, .75)}, {offset: .55, color: jet(L.v, .45)}, {offset: 1, color: jet(L.v, 0)}]
      }}};
    }
    if (L.gradient) {
      return {type: 'polygon', shape: {points: pts}, style: {fill: {
        type: 'linear', x: 0, y: 0, x2: 0, y2: 1,
        colorStops: L.gradient.map(function (s) { return {offset: s[0], color: jet(s[1])}; })
      }}};
    }
    var st = {shadowBlur: L.blur, shadowColor: L.color, opacity: L.opacity == null ? 1 : L.opacity};
    if (L.line) {
      st.fill = null; st.stroke = L.color; st.lineWidth = L.width; st.lineJoin = 'round';
      return {type: 'polyline', shape: {points: pts, smooth: L.smooth}, style: st};
    }
    st.fill = L.color;
    return {type: 'polygon', shape: {points: pts, smooth: L.smooth}, style: st};
  };
}

frames.forEach(function (fr, i) {
  var t = tickPx[i];
  var sx = (t[2] - t[0]) / 2, sz = (t[5] - t[3]) / 2;
  var xMin = (fr[0] - t[1]) / sx, xMax = (fr[2] - t[1]) / sx;
  var zMin = (t[4] - fr[3]) / sz, zMax = (t[4] - fr[1]) / sz;
  var gridId = option.grid.length;
  option.grid.push({left: fr[0], top: fr[1], width: fr[2] - fr[0], height: fr[3] - fr[1]});

  var line = {show: true, onZero: false, lineStyle: {color: '#555', width: 1.4}};
  var tick = {show: true, inside: true, length: 6, customValues: ticks, lineStyle: {color: '#222'}};
  var lab = {show: true, customValues: ticks, color: '#222', fontFamily: font, fontSize: 17, margin: 5};
  ['bottom', 'top'].forEach(function (pos, k) {
    option.xAxis.push({type: 'value', gridIndex: gridId, position: pos, z: 5, min: xMin, max: xMax, axisLine: line, axisTick: tick,
      axisLabel: k ? {show: false} : lab, splitLine: {show: false}});
  });
  ['left', 'right'].forEach(function (pos, k) {
    option.yAxis.push({type: 'value', gridIndex: gridId, position: pos, z: 5, min: zMin, max: zMax, axisLine: line, axisTick: tick,
      axisLabel: k ? {show: false} : lab, splitLine: {show: false}});
  });
  var xIdx = option.xAxis.length - 2, yIdx = option.yAxis.length - 2;

  option.series.push({type: 'custom', silent: true, xAxisIndex: xIdx, yAxisIndex: yIdx, clip: true, z: 1,
    renderItem: renderLayers(layers[i]), encode: {x: 0, y: 1},
    data: layers[i].map(function (L) { return L.pts[0]; })});
  fieldLines[i].forEach(function (pts) {
    option.series.push({type: 'line', silent: true, xAxisIndex: xIdx, yAxisIndex: yIdx, z: 2, showSymbol: false, symbol: 'none',
      lineStyle: {color: '#000', width: 1}, data: pts});
  });
  coreLines[i].forEach(function (pts) {
    option.series.push({type: 'line', silent: true, xAxisIndex: xIdx, yAxisIndex: yIdx, z: 2, showSymbol: false, symbol: 'none',
      lineStyle: {color: '#000', width: 2}, data: pts});
  });
  option.series.push({type: 'scatter', silent: true, xAxisIndex: xIdx, yAxisIndex: yIdx, z: 3, symbol: 'diamond', symbolSize: 5,
    itemStyle: {color: '#888', borderColor: '#222', borderWidth: .7},
    data: fieldLines[i].map(function (pts) { return pts[0]; })});

  // colour bar: axis bracket plus the gradient
  var b = bars[i], a = barAxis[i], box = barBoxes[i];
  option.grid.push({left: b[0], top: a[0], width: b[2] - b[0], height: a[1] - a[0]});
  option.xAxis.push({type: 'value', gridIndex: gridId + 1, show: false, min: 0, max: 1});
  option.yAxis.push({type: 'value', gridIndex: gridId + 1, position: 'right', min: rhoMin[i], max: rhoMax[i],
    axisLine: {show: true, onZero: false, lineStyle: {color: '#222', width: 1}},
    axisTick: {show: true, length: 3, customValues: [rhoMin[i], rhoMax[i]], lineStyle: {color: '#222'}},
    axisLabel: {show: true, customValues: [rhoMin[i], rhoMax[i]], color: '#222', fontFamily: font, fontSize: 17.5, margin: 3,
      formatter: function (v) { return v.toFixed(1); }},
    splitLine: {show: false}});
  option.visualMap.push({type: 'continuous', seriesIndex: [], min: rhoMin[i], max: rhoMax[i], calculable: false, hoverLink: false, realtime: false,
    left: b[0], top: b[1], itemWidth: b[2] - b[0], itemHeight: b[3] - b[1], padding: 0, text: null, showLabel: false, z: 6,
    inRange: {color: jetStops}});

  option.graphic.push({type: 'rect', silent: true, z: 0, shape: {x: box[0], y: box[1], width: box[2] - box[0], height: box[3] - box[1]},
    style: {fill: 'none', stroke: '#444', lineWidth: 1.4}});
  option.graphic.push({type: 'text', silent: true, x: (box[0] + box[2]) / 2 + 1, y: box[1] + 12.5, style: {text: 'log (ρ)', fontFamily: font, fontSize: 22, fill: '#222', align: 'center', verticalAlign: 'middle'}});
  option.graphic.push({type: 'text', silent: true, x: (box[0] + box[2]) / 2 + .5, y: box[3] - 9, style: {
    text: '{m|n}{s|H}{m| [cm}{u|-3}{m|]}', align: 'center', verticalAlign: 'middle', fill: '#222', fontFamily: font,
    rich: {
      m: {fontFamily: font, fontSize: 16, lineHeight: 16, fill: '#222', verticalAlign: 'middle'},
      s: {fontFamily: font, fontSize: 11, lineHeight: 11, fill: '#222', verticalAlign: 'bottom'},
      u: {fontFamily: font, fontSize: 11, lineHeight: 11, fill: '#222', verticalAlign: 'top'}
    }}});
  option.graphic.push({type: 'text', silent: true, x: t[1] + 44.5, y: fr[3] + 14, style: {text: 'x', fontFamily: font, fontSize: 17, fill: '#222', align: 'center', verticalAlign: 'middle'}});
  option.graphic.push({type: 'text', silent: true, x: fr[0] - 12, y: t[4] - 52, rotation: Math.PI / 2, style: {text: 'z', fontFamily: font, fontSize: 17, fill: '#222', align: 'center', verticalAlign: 'middle'}});

  option.title.push({left: fr[0] - 1, top: fr[1] - 36, padding: 0,
    text: '{m|' + labelsPanel[i] + ' t}{s|SN}{m| = ' + times[i] + ' kyrs}',
    textStyle: {fontWeight: 'normal', rich: {
      m: {fontFamily: font, fontWeight: 'normal', fontSize: 28.5, lineHeight: 34, color: '#222', verticalAlign: 'middle'},
      s: {fontFamily: font, fontWeight: 'normal', fontSize: 19, lineHeight: 19, color: '#222', verticalAlign: 'bottom'}
    }}});
});

var chart = echarts.init(document.getElementById('main'), null, {renderer: 'canvas'});
chart.setOption(option);
</script>
</body>
</html>
